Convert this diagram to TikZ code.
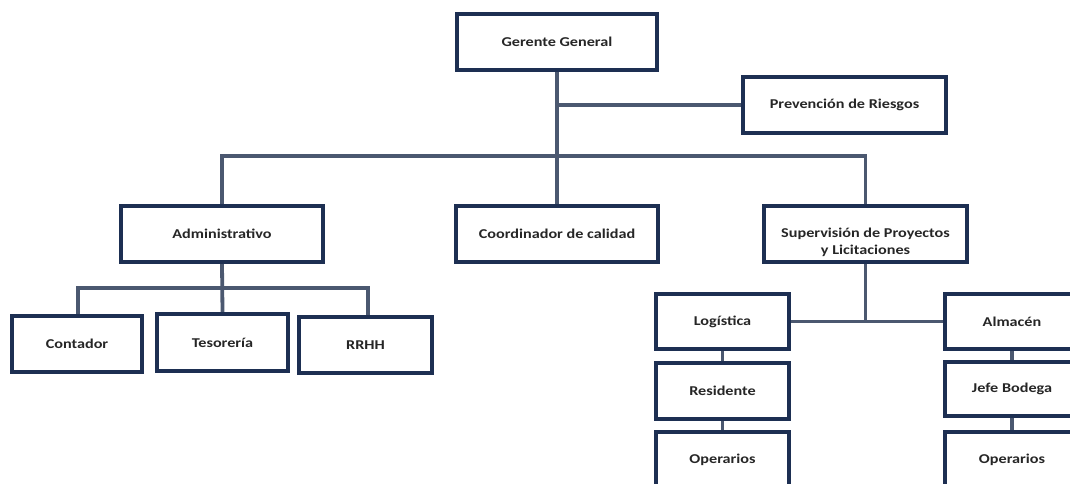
\documentclass[tikz,border=0pt]{standalone}
\usepackage{fontspec}
\setmainfont{Carlito}
\newfontfamily\orgfont[FakeStretch=1.2]{Carlito}
\usetikzlibrary{backgrounds}
\begin{document}
\begin{tikzpicture}[x=1pt,y=-1pt,
  orgbox/.style={draw=boxnavy, line width=3.2pt, fill=white, rectangle,
    inner sep=2pt, align=center,
    font=\orgfont\fontsize{13.5}{14.5}\selectfont\bfseries, text=black!85},
  link/.style={draw=linkslate, line width=3.8pt}]
\definecolor{boxnavy}{HTML}{1D2F52}
\definecolor{linkslate}{HTML}{4B5870}
\useasboundingbox (0,0) rectangle (1070,484);
\clip (0,0) rectangle (1070,484);

% top level
\node[orgbox, minimum width=200pt, minimum height=56pt] (gg) at (557,42) {Gerente General};
\node[orgbox, minimum width=203pt, minimum height=56pt] (prev) at (844.5,105) {Prevención de Riesgos};

% second level
\node[orgbox, minimum width=202pt, minimum height=56pt] (adm) at (222,234) {Administrativo};
\node[orgbox, minimum width=202pt, minimum height=56pt] (coord) at (557,234) {Coordinador de calidad};
% the strut on the first line sets the two lines a little low in the box
\node[orgbox, minimum width=203pt, minimum height=56pt] (sup) at (865.5,234)
  {\rule{0pt}{26pt}Supervisión de Proyectos\\[2pt]y Licitaciones};

% administrative staff
\node[orgbox, minimum width=130pt, minimum height=56pt] (cont) at (77,344) {Contador};
\node[orgbox, minimum width=131pt, minimum height=57pt] (tes) at (222.5,342.5) {Tesorería};
\node[orgbox, minimum width=133pt, minimum height=56pt] (rrhh) at (365.5,345) {RRHH};

% project branches
\node[orgbox, minimum width=133pt, minimum height=55pt] (log) at (722.5,321.5) {Logística};
\node[orgbox, minimum width=134pt, minimum height=55pt] (alm) at (1012,321.5) {Almacén};
\node[orgbox, minimum width=133pt, minimum height=56pt] (res) at (722.5,391) {Residente};
\node[orgbox, minimum width=134pt, minimum height=54pt] (jefe) at (1012,389) {Jefe Bodega};
\node[orgbox, minimum width=133pt, minimum height=56pt] (op1) at (722.5,460) {Operarios};
\node[orgbox, minimum width=134pt, minimum height=56pt] (op2) at (1012,460) {Operarios};

% connectors, kept behind the boxes
\coordinate (bus) at (557,156);
\coordinate (abus) at (222,288);
\begin{scope}[on background layer]
\draw[link] (gg.south) -- (coord.north);
\draw[link] (gg.south |- prev.west) -- (prev.west);
\draw[link] (adm.north) |- (bus) -| (sup.north);
\draw[link] (adm.south) -- (tes.north);
\draw[link] ([xshift=1pt]cont.north) |- (abus) -| ([xshift=2.5pt]rrhh.north);
\draw[link] (sup.south) -- (sup.south |- log.east);
\draw[link] (log.east) -- (alm.west);
\draw[link] (log.south) -- (res.north);
\draw[link] (res.south) -- (op1.north);
\draw[link] (alm.south) -- (jefe.north);
\draw[link] (jefe.south) -- (op2.north);
\end{scope}
\end{tikzpicture}
\end{document}
